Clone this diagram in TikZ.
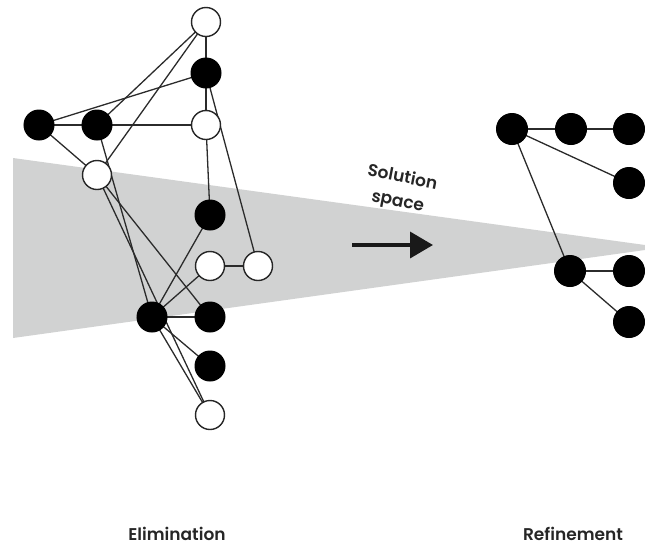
\documentclass[tikz,border=0pt]{standalone}
\usepackage{fontspec}
\setmainfont{Poppins}[BoldFont={Poppins SemiBold}]
\usetikzlibrary{arrows.meta}
\pgfdeclarelayer{back}
\pgfdeclarelayer{edges}
\pgfsetlayers{back,edges,main}
\definecolor{wedgegray}{HTML}{D1D2D2}
\definecolor{edgegray}{HTML}{2B2B2B}
\tikzset{
  link/.style={draw=edgegray, line width=1.3pt},
  fullnode/.style={circle, fill=black, draw=black, line width=1pt, minimum size=30pt, inner sep=0pt},
  opennode/.style={circle, fill=white, draw=black!85, line width=1.4pt, minimum size=29pt, inner sep=0pt},
  bignode/.style={circle, fill=black, draw=black, line width=1pt, minimum size=31pt, inner sep=0pt},
  caption/.style={font=\bfseries\fontsize{17}{24}\selectfont, text=black!85, inner sep=0pt}
}
\begin{document}
\begin{tikzpicture}[x=1pt, y=-1pt]
\useasboundingbox (0,0) rectangle (645,547);

% narrowing solution space
\begin{pgfonlayer}{back}
\fill[wedgegray] (13,158) -- (645,245) -- (645,250) -- (13,338) -- cycle;
\end{pgfonlayer}

% elimination graph
\node[opennode] (w1) at (206,22) {};
\node[fullnode] (b1) at (206,73) {};
\node[opennode] (w2) at (206,125) {};
\node[fullnode] (a)  at (39,125) {};
\node[fullnode] (b)  at (97,125) {};
\node[opennode] (w3) at (97,175) {};
\node[fullnode] (b2) at (210,215) {};
\node[opennode] (w4) at (210,266) {};
\node[opennode] (w5) at (258,266) {};
\node[fullnode] (c)  at (152,317) {};
\node[fullnode] (b3) at (210,317) {};
\node[fullnode] (b4) at (210,366) {};
\node[opennode] (w6) at (210,415) {};

% refinement graph
\node[bignode] (r1) at (512,129) {};
\node[bignode] (r2) at (571,129) {};
\node[bignode] (r3) at (629,129) {};
\node[bignode] (r4) at (629,183) {};
\node[bignode] (r5) at (570,271) {};
\node[bignode] (r6) at (629,271) {};
\node[bignode] (r7) at (629,322) {};

% connectors, kept under the nodes
\begin{pgfonlayer}{edges}
\draw[link] (w1.center) -- (b1.center);
\draw[link] (w1.center) -- (b.center);
\draw[link] (w1.center) -- (w3.center);
\draw[link] (a.center) -- (b1.center);
\draw[link] (a.center) -- (b.center);
\draw[link] (a.center) -- (w3.center);
\draw[link] (b.center) -- (w2.center);
\draw[link] (b.center) -- (c.center);
\draw[link] (b1.center) -- (w2.center);
\draw[link] (b1.center) -- (w5.center);
\draw[link] (w2.center) -- (b2.center);
\draw[link] (w4.center) -- (w5.center);
\draw[link] (w3.center) -- (b3.center);
\draw[link] (w3.center) -- (w6.center);
\draw[link] (c.center) -- (b2.center);
\draw[link] (c.center) -- (w4.center);
\draw[link] (c.center) -- (b3.center);
\draw[link] (c.center) -- (b4.center);
\draw[link] (c.center) -- (w6.center);
\draw[link] (r1.center) -- (r2.center);
\draw[link] (r2.center) -- (r3.center);
\draw[link] (r1.center) -- (r4.center);
\draw[link] (r1.center) -- (r5.center);
\draw[link] (r5.center) -- (r6.center);
\draw[link] (r5.center) -- (r7.center);
\end{pgfonlayer}

% arrow and labels
\coordinate (arrfrom) at (352,245);
\coordinate (arrto) at (433,245);
\draw[line width=3.6pt, black!90, -{Triangle[length=23pt, width=26pt]}] (arrfrom) -- (arrto);
\node[caption, rotate=-11, align=center] (sol) at (400,190) {Solution\\space};
\node[caption] (elim) at (177,534) {Elimination};
\node[caption] (refi) at (573,534) {Refinement};
\end{tikzpicture}
\end{document}
